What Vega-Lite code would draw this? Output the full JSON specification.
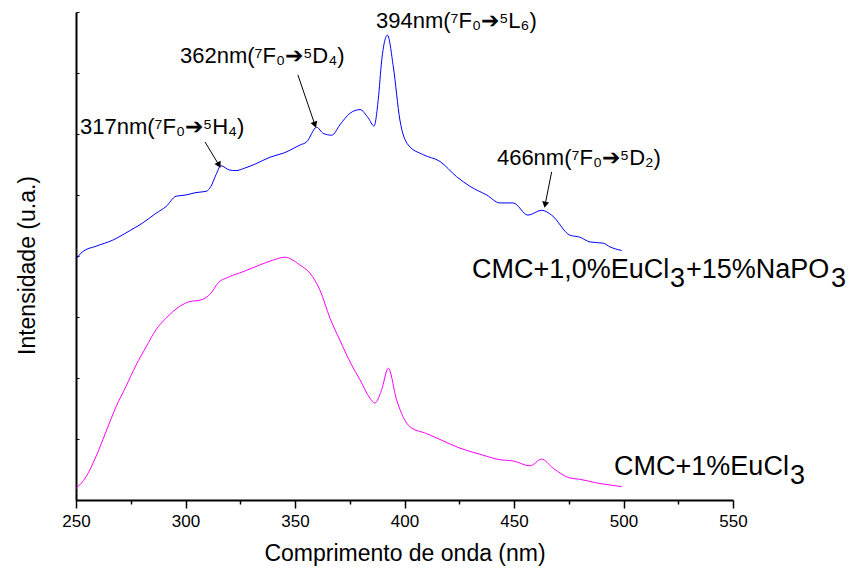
{
  "$schema": "https://vega.github.io/schema/vega-lite/v6.json",
  "width": 657,
  "height": 488,
  "autosize": "none",
  "padding": {"left": 76, "top": 12, "right": 121, "bottom": 74},
  "background": "white",
  "config": {"view": {"stroke": null}, "font": "Liberation Sans"},
  "datasets": {
    "spectra": [
      {"wl": 250, "v": 3.95, "s": "A"}, {"wl": 253, "v": 4.07, "s": "A"}, {"wl": 259.1, "v": 4.16, "s": "A"}, {"wl": 266.8, "v": 4.26, "s": "A"}, {"wl": 274.3, "v": 4.41, "s": "A"}, {"wl": 280.4, "v": 4.54, "s": "A"}, {"wl": 286.5, "v": 4.70, "s": "A"}, {"wl": 291.1, "v": 4.81, "s": "A"}, {"wl": 295.7, "v": 4.98, "s": "A"}, {"wl": 300.2, "v": 5.00, "s": "A"}, {"wl": 304.8, "v": 5.04, "s": "A"}, {"wl": 309.4, "v": 5.06, "s": "A"}, {"wl": 311.6, "v": 5.14, "s": "A"}, {"wl": 313.9, "v": 5.33, "s": "A"}, {"wl": 316.2, "v": 5.48, "s": "A"}, {"wl": 320, "v": 5.41, "s": "A"}, {"wl": 323, "v": 5.40, "s": "A"}, {"wl": 327, "v": 5.44, "s": "A"}, {"wl": 332, "v": 5.51, "s": "A"}, {"wl": 338.6, "v": 5.62, "s": "A"}, {"wl": 345, "v": 5.69, "s": "A"}, {"wl": 352.3, "v": 5.82, "s": "A"}, {"wl": 355.3, "v": 5.87, "s": "A"}, {"wl": 359.9, "v": 6.11, "s": "A"}, {"wl": 362.9, "v": 6.01, "s": "A"}, {"wl": 366.8, "v": 5.98, "s": "A"}, {"wl": 370.5, "v": 6.15, "s": "A"}, {"wl": 375.1, "v": 6.34, "s": "A"}, {"wl": 379.7, "v": 6.40, "s": "A"}, {"wl": 383.5, "v": 6.26, "s": "A"}, {"wl": 386.1, "v": 6.13, "s": "A"}, {"wl": 388, "v": 6.56, "s": "A"}, {"wl": 389.6, "v": 7.21, "s": "A"}, {"wl": 392.2, "v": 7.62, "s": "A"}, {"wl": 394.9, "v": 7.10, "s": "A"}, {"wl": 397.9, "v": 6.23, "s": "A"}, {"wl": 401.7, "v": 5.82, "s": "A"}, {"wl": 408.6, "v": 5.66, "s": "A"}, {"wl": 416.2, "v": 5.55, "s": "A"}, {"wl": 423.8, "v": 5.30, "s": "A"}, {"wl": 430, "v": 5.14, "s": "A"}, {"wl": 437.5, "v": 5.00, "s": "A"}, {"wl": 443.6, "v": 4.87, "s": "A"}, {"wl": 449.6, "v": 4.87, "s": "A"}, {"wl": 456.4, "v": 4.67, "s": "A"}, {"wl": 462.6, "v": 4.75, "s": "A"}, {"wl": 467.2, "v": 4.67, "s": "A"}, {"wl": 475.6, "v": 4.34, "s": "A"}, {"wl": 480, "v": 4.31, "s": "A"}, {"wl": 484.7, "v": 4.23, "s": "A"}, {"wl": 490.8, "v": 4.21, "s": "A"}, {"wl": 493.8, "v": 4.15, "s": "A"}, {"wl": 499.2, "v": 4.09, "s": "A"},
      {"wl": 250, "v": 0.19, "s": "B"}, {"wl": 254.6, "v": 0.38, "s": "B"}, {"wl": 259.1, "v": 0.71, "s": "B"}, {"wl": 263.7, "v": 1.12, "s": "B"}, {"wl": 268.3, "v": 1.53, "s": "B"}, {"wl": 272.8, "v": 1.86, "s": "B"}, {"wl": 277.4, "v": 2.21, "s": "B"}, {"wl": 282, "v": 2.51, "s": "B"}, {"wl": 286.5, "v": 2.79, "s": "B"}, {"wl": 291.1, "v": 2.98, "s": "B"}, {"wl": 297.2, "v": 3.17, "s": "B"}, {"wl": 301.7, "v": 3.25, "s": "B"}, {"wl": 307.1, "v": 3.28, "s": "B"}, {"wl": 311.6, "v": 3.39, "s": "B"}, {"wl": 314.7, "v": 3.55, "s": "B"}, {"wl": 320, "v": 3.66, "s": "B"}, {"wl": 326.1, "v": 3.74, "s": "B"}, {"wl": 333.7, "v": 3.85, "s": "B"}, {"wl": 339.8, "v": 3.93, "s": "B"}, {"wl": 345.4, "v": 3.98, "s": "B"}, {"wl": 352.3, "v": 3.85, "s": "B"}, {"wl": 356.8, "v": 3.72, "s": "B"}, {"wl": 361.4, "v": 3.44, "s": "B"}, {"wl": 366, "v": 2.98, "s": "B"}, {"wl": 370.5, "v": 2.62, "s": "B"}, {"wl": 375.9, "v": 2.21, "s": "B"}, {"wl": 379.7, "v": 1.97, "s": "B"}, {"wl": 384.2, "v": 1.67, "s": "B"}, {"wl": 386.5, "v": 1.59, "s": "B"}, {"wl": 389.5, "v": 1.80, "s": "B"}, {"wl": 392.6, "v": 2.16, "s": "B"}, {"wl": 396.4, "v": 1.64, "s": "B"}, {"wl": 402.5, "v": 1.20, "s": "B"}, {"wl": 410, "v": 1.09, "s": "B"}, {"wl": 417, "v": 0.98, "s": "B"}, {"wl": 425.3, "v": 0.85, "s": "B"}, {"wl": 434.5, "v": 0.75, "s": "B"}, {"wl": 443.6, "v": 0.66, "s": "B"}, {"wl": 449.7, "v": 0.64, "s": "B"}, {"wl": 457.3, "v": 0.56, "s": "B"}, {"wl": 462.6, "v": 0.67, "s": "B"}, {"wl": 467.9, "v": 0.52, "s": "B"}, {"wl": 475.6, "v": 0.36, "s": "B"}, {"wl": 480.1, "v": 0.34, "s": "B"}, {"wl": 487.7, "v": 0.28, "s": "B"}, {"wl": 499.2, "v": 0.22, "s": "B"}
    ],
    "labels": [
      {"wl": 251.8, "v": 6.0, "t": "317nm(⁷F₀➔⁵H₄)"},
      {"wl": 297.5, "v": 7.16, "t": "362nm(⁷F₀➔⁵D₄)"},
      {"wl": 387, "v": 7.74, "t": "394nm(⁷F₀➔⁵L₆)"},
      {"wl": 442.2, "v": 5.49, "t": "466nm(⁷F₀➔⁵D₂)"}
    ],
    "arrows": [
      {"peak": 317, "wl": 308.9, "v": 5.87, "wl2": 315.3, "v2": 5.49},
      {"peak": 362, "wl": 351.3, "v": 6.97, "wl2": 359.1, "v2": 6.15},
      {"peak": 466, "wl": 467.2, "v": 5.38, "wl2": 464.2, "v2": 4.84}
    ]
  },
  "layer": [
    {
      "data": {"name": "spectra"},
      "mark": {"type": "line", "strokeWidth": 1, "interpolate": "monotone"},
      "encoding": {
        "x": {
          "field": "wl", "type": "quantitative",
          "scale": {"domain": [250, 550], "nice": false, "zero": false},
          "axis": {
            "title": "Comprimento de onda (nm)",
            "values": [250, 275, 300, 325, 350, 375, 400, 425, 450, 475, 500, 525, 550],
            "labelExpr": "datum.value % 50 === 0 ? datum.label : ''",
            "tickSize": {"condition": {"test": "datum.value % 50 === 0", "value": 8}, "value": 4},
            "tickColor": "black", "tickWidth": 1.5,
            "domainColor": "black", "domainWidth": 2,
            "grid": false,
            "labelFont": "Liberation Sans", "labelFontSize": 17, "labelColor": "black", "labelPadding": 5,
            "labelFlush": false,
            "titleFont": "Liberation Sans", "titleFontSize": 23, "titleFontWeight": "normal", "titleColor": "black", "titlePadding": 13
          }
        },
        "y": {
          "field": "v", "type": "quantitative",
          "scale": {"domain": [0, 8], "nice": false, "zero": false},
          "axis": {
            "title": "Intensidade (u.a.)",
            "values": [0, 1, 2, 3, 4, 5, 6, 7, 8],
            "labels": false,
            "tickSize": -3, "tickColor": "black", "tickWidth": 1,
            "domainColor": "black", "domainWidth": 2,
            "grid": false,
            "titleFont": "Liberation Sans", "titleFontSize": 23, "titleFontWeight": "normal", "titleColor": "black", "titlePadding": 36, "titleY": 253
          }
        },
        "color": {
          "field": "s", "type": "nominal",
          "scale": {"domain": ["A", "B"], "range": ["#0000ff", "#ff00ff"]},
          "legend": null
        }
      }
    },
    {
      "data": {"name": "arrows"},
      "mark": {"type": "rule", "color": "black", "strokeWidth": 1},
      "encoding": {
        "x": {"field": "wl", "type": "quantitative"},
        "y": {"field": "v", "type": "quantitative"},
        "x2": {"field": "wl2"},
        "y2": {"field": "v2"}
      }
    },
    {
      "data": {"name": "arrows"},
      "transform": [{"filter": "datum.peak === 317"}],
      "mark": {"type": "point", "shape": "triangle-down", "filled": true, "color": "black", "size": 50, "angle": 332, "opacity": 1},
      "encoding": {"x": {"field": "wl2", "type": "quantitative"}, "y": {"field": "v2", "type": "quantitative"}}
    },
    {
      "data": {"name": "arrows"},
      "transform": [{"filter": "datum.peak === 362"}],
      "mark": {"type": "point", "shape": "triangle-down", "filled": true, "color": "black", "size": 50, "angle": 341, "opacity": 1},
      "encoding": {"x": {"field": "wl2", "type": "quantitative"}, "y": {"field": "v2", "type": "quantitative"}}
    },
    {
      "data": {"name": "arrows"},
      "transform": [{"filter": "datum.peak === 466"}],
      "mark": {"type": "point", "shape": "triangle-down", "filled": true, "color": "black", "size": 50, "angle": 11, "opacity": 1},
      "encoding": {"x": {"field": "wl2", "type": "quantitative"}, "y": {"field": "v2", "type": "quantitative"}}
    },
    {
      "data": {"name": "labels"},
      "mark": {"type": "text", "align": "left", "baseline": "alphabetic", "font": "Liberation Sans", "fontSize": 22, "color": "black"},
      "encoding": {
        "x": {"field": "wl", "type": "quantitative"},
        "y": {"field": "v", "type": "quantitative"},
        "text": {"field": "t"}
      }
    },
    {
      "data": {"values": [{"wl": 430.8, "v": 3.64, "t": "CMC+1,0%EuCl"}, {"wl": 495.7, "v": 0.41, "t": "CMC+1%EuCl"}]},
      "mark": {"type": "text", "align": "left", "baseline": "alphabetic", "font": "Liberation Sans", "fontSize": 27, "color": "black"},
      "encoding": {"x": {"field": "wl", "type": "quantitative"}, "y": {"field": "v", "type": "quantitative"}, "text": {"field": "t"}}
    },
    {
      "data": {"values": [{"wl": 430.8, "v": 3.64, "t": "3"}]},
      "mark": {"type": "text", "align": "left", "baseline": "alphabetic", "font": "Liberation Sans", "fontSize": 27, "color": "black", "dx": 198, "dy": 9},
      "encoding": {"x": {"field": "wl", "type": "quantitative"}, "y": {"field": "v", "type": "quantitative"}, "text": {"field": "t"}}
    },
    {
      "data": {"values": [{"wl": 430.8, "v": 3.64, "t": "+15%NaPO"}]},
      "mark": {"type": "text", "align": "left", "baseline": "alphabetic", "font": "Liberation Sans", "fontSize": 27, "color": "black", "dx": 214},
      "encoding": {"x": {"field": "wl", "type": "quantitative"}, "y": {"field": "v", "type": "quantitative"}, "text": {"field": "t"}}
    },
    {
      "data": {"values": [{"wl": 430.8, "v": 3.64, "t": "3"}]},
      "mark": {"type": "text", "align": "left", "baseline": "alphabetic", "font": "Liberation Sans", "fontSize": 27, "color": "black", "dx": 359, "dy": 9},
      "encoding": {"x": {"field": "wl", "type": "quantitative"}, "y": {"field": "v", "type": "quantitative"}, "text": {"field": "t"}}
    },
    {
      "data": {"values": [{"wl": 495.7, "v": 0.41, "t": "3"}]},
      "mark": {"type": "text", "align": "left", "baseline": "alphabetic", "font": "Liberation Sans", "fontSize": 27, "color": "black", "dx": 176, "dy": 9},
      "encoding": {"x": {"field": "wl", "type": "quantitative"}, "y": {"field": "v", "type": "quantitative"}, "text": {"field": "t"}}
    }
  ]
}
